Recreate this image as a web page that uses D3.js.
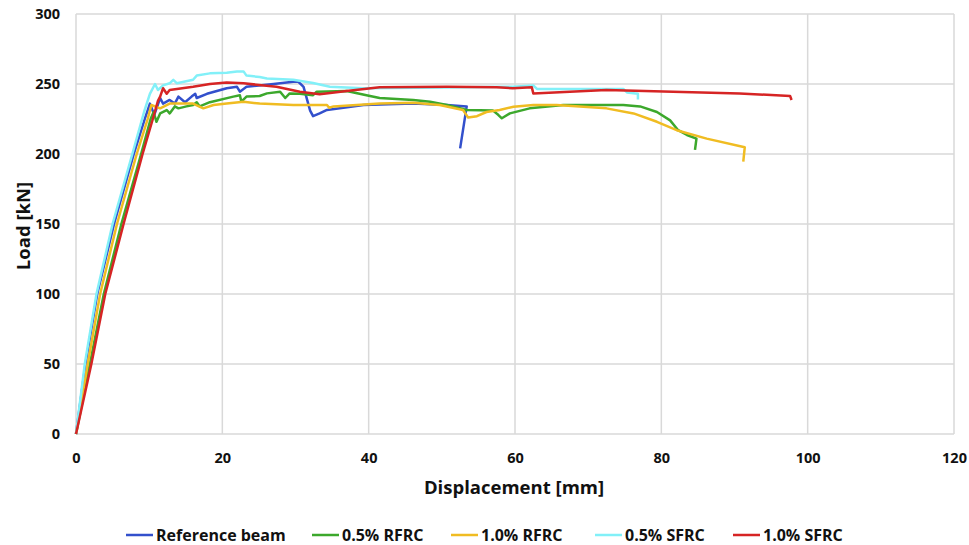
<!DOCTYPE html>
<html>
<head>
<meta charset="utf-8">
<script src="https://cdn.jsdelivr.net/npm/d3@7"></script>
<style>
  body { margin: 0; background: #fff; }
  text { font-family: "Open Sans", "Noto Sans", sans-serif; font-weight: bold; fill: #111; }
</style>
</head>
<body>
<svg width="969" height="545"></svg>
<script>
// Data: [displacement mm, load kN]
const refBeam = [[0,0],[1.3,50],[2.9,100],[5.2,150],[7.9,200],[9.4,225],[10.1,236],[10.7,228],[11.5,240],[11.9,236],[12.8,238.6],[13.5,236],[14,241],[14.9,237],[15.8,241],[16.3,243],[16.5,240],[17.9,243],[20.6,247],[22,248],[22.4,244.5],[23.3,248],[27,250],[29.7,251.6],[30.4,251.6],[31.1,248],[32,231],[32.4,227],[33.3,229],[34.3,231.5],[39.3,235],[46.1,236],[50.7,235],[53.4,234],[52.5,204]];
const rfrc05 = [[0,0],[1.9,50],[3.8,100],[6.2,150],[8.9,200],[10.2,225],[10.6,230],[11,223],[11.5,229],[12.4,231.4],[12.8,229],[13.5,234],[14,232.6],[15.1,234],[16,235],[16.5,237],[16.9,234],[18.3,237],[21.5,241],[22.4,242],[22.6,237.4],[23.3,241],[25.1,241.4],[26.1,243.3],[27.9,244.5],[28.6,240],[29.2,243.3],[30.6,243],[32.4,242],[32.9,244.5],[37,245],[39.7,242],[41.5,240],[46.1,238.6],[48.4,237.4],[50.7,235],[53.4,231.4],[57,231],[57.7,228],[58.2,225.5],[59.3,229],[62,232.6],[66.6,235],[74.8,235],[77.1,234],[79.4,230],[81.2,224],[82.3,217],[83.5,213.6],[84.8,211],[84.6,203]];
const rfrc10 = [[0,0],[1.6,50],[3.3,100],[5.6,150],[8.3,200],[9.8,225],[10.3,235],[11.5,232.6],[12.8,236],[16,236],[17.4,232.6],[18.8,235],[20.6,236],[22.9,237.4],[25.1,236],[29.7,235],[34.3,235],[34.6,233],[35.2,234],[41.5,236],[46.1,236.6],[49.7,235],[52.9,231.4],[53.6,226],[54.8,227],[56.1,230],[57.9,231.4],[59.8,233.8],[62.5,235],[65.7,235],[72.5,232.6],[76.2,229],[79.4,223],[82.1,217],[86.2,211],[91.4,204.8],[91.2,194.5]];
const sfrc05 = [[0,0],[1.2,50],[2.8,100],[5.0,150],[7.7,200],[9.3,230],[10.1,243],[10.8,250],[11.2,245.7],[11.9,249],[12.8,250.5],[13.3,253],[13.8,250.5],[16,253],[16.5,256],[18.3,257.6],[20.6,258],[22,259],[22.9,259],[23.3,256],[25.1,255],[26.1,254],[29.7,253],[32.4,250.7],[34.7,248],[39.2,247],[50,247.5],[59.7,248],[62.5,249],[63,246.5],[74.8,246.5],[75.3,244],[76.8,243],[76.8,239]];
const sfrc10 = [[0,0],[2.1,50],[4.0,100],[6.5,150],[9.1,200],[10.5,225],[11.2,238],[11.5,241],[11.9,247],[12.4,243],[12.8,245.7],[16,248],[18.3,250],[20.6,251],[22.9,250.5],[27.4,248],[30.6,244.5],[33.3,242.6],[37,245],[41.5,247.6],[50.7,248],[57.5,247.6],[59.7,247],[62.3,247.6],[62.5,243.3],[72.5,245.7],[81.6,244.5],[90.7,243.3],[97.6,241.4],[97.8,238.6]];

const seriesNames = ["Reference beam", "0.5% RFRC", "1.0% RFRC", "0.5% SFRC", "1.0% SFRC"];
const seriesData = [refBeam, rfrc05, rfrc10, sfrc05, sfrc10];
const seriesColors = ["#3350cc", "#3ca82c", "#f0bc22", "#82f0f8", "#d62424"];
const xTicks = [0, 20, 40, 60, 80, 100, 120];
const yTicks = [0, 50, 100, 150, 200, 250, 300];

let svg = d3.select("svg");

// Scales
let x = d3.scaleLinear().domain([0, 120]).range([76, 954]);
let y = d3.scaleLinear().domain([0, 300]).range([434, 14]);

// Grid
svg.append("g")
    .selectAll("line")
    .data(xTicks)
    .enter()
    .append("line")
    .attr("x1", d => x(d)).attr("x2", d => x(d))
    .attr("y1", y(0)).attr("y2", y(300))
    .attr("stroke", "#d9d9d9")
    .attr("stroke-width", 1.5)

svg.append("g")
    .selectAll("line")
    .data(yTicks)
    .enter()
    .append("line")
    .attr("x1", x(0)).attr("x2", x(120))
    .attr("y1", d => y(d)).attr("y2", d => y(d))
    .attr("stroke", "#d9d9d9")
    .attr("stroke-width", 1.5)

// Axes (labels only, lines hidden)
let xAxis = svg.append("g")
    .attr("transform", "translate(0," + y(0) + ")")
    .call(d3.axisBottom(x).tickValues(xTicks).tickSize(0).tickPadding(19))
xAxis.select(".domain").remove()
xAxis.selectAll("text").style("font-size", "14.5px").attr("font-family", null)

let yAxis = svg.append("g")
    .attr("transform", "translate(" + x(0) + ",0)")
    .call(d3.axisLeft(y).tickValues(yTicks).tickSize(0).tickPadding(16))
yAxis.select(".domain").remove()
yAxis.selectAll("text").style("font-size", "14.5px").attr("font-family", null)

// Lines
let line = d3.line()
    .x(d => x(d[0]))
    .y(d => y(d[1]))

svg.append("g")
    .selectAll("path")
    .data(seriesData)
    .enter()
    .append("path")
    .attr("d", line)
    .attr("fill", "none")
    .attr("stroke", (d, i) => seriesColors[i])
    .attr("stroke-width", 2.5)
    .attr("stroke-linejoin", "round")

// Axis titles
svg.append("text")
    .attr("x", 514)
    .attr("y", 494)
    .attr("text-anchor", "middle")
    .style("font-size", "18.5px")
    .text("Displacement [mm]")

svg.append("text")
    .attr("transform", "translate(30,226) rotate(-90)")
    .attr("text-anchor", "middle")
    .style("font-size", "18.5px")
    .text("Load [kN]")

// Legend
const legendX = [126, 312, 451, 595, 733];
let legend = svg.append("g")
    .selectAll("g")
    .data(seriesNames)
    .enter()
    .append("g")
    .attr("transform", (d, i) => "translate(" + legendX[i] + ",535)")

legend.append("line")
    .attr("x1", 0).attr("x2", 27)
    .attr("stroke", (d, i) => seriesColors[i])
    .attr("stroke-width", 2.5)

legend.append("text")
    .attr("x", 30)
    .attr("dy", "0.35em")
    .style("font-size", "16px")
    .text(d => d)
</script>
</body>
</html>
